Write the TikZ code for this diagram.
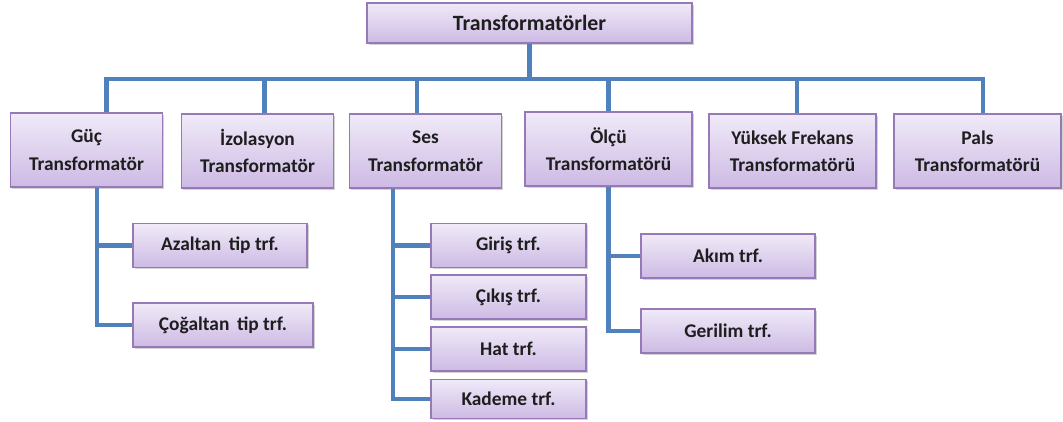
\documentclass[tikz,border=0pt]{standalone}
\usepackage{fontspec}
\setmainfont{Carlito}
\usetikzlibrary{shadows}

\definecolor{linkblue}{RGB}{79,129,189}
\definecolor{boxline}{RGB}{150,122,184}
\definecolor{boxtop}{RGB}{240,234,248}
\definecolor{boxbottom}{RGB}{205,186,228}
\definecolor{textdark}{RGB}{30,30,30}

\tikzset{
	box/.style={draw=boxline, line width=0.8pt, top color=boxtop, bottom color=boxbottom,
		align=center, inner sep=2pt, text=textdark, font=\bfseries\fontsize{13.8}{19.5}\selectfont,
		drop shadow={shadow xshift=1.2pt, shadow yshift=-1.2pt, opacity=0.35}},
	mainbox/.style={box, minimum width=3.8cm, minimum height=1.85cm},
	subbox/.style={box, minimum height=1.1cm},
	link/.style={draw=linkblue, line width=3.2pt}
}

\begin{document}
\begin{tikzpicture}[x=0.025cm, y=-0.025cm]
			\useasboundingbox (0,0) rectangle (1063,421);

			\node[box, minimum width=8.125cm, minimum height=1cm, font=\bfseries\fontsize{15.5}{18}\selectfont] (top) at (529.5,23) {Transformatörler};

			\begin{scope}[every node/.style={mainbox}]
				\node (guc) at (86.5,150) {Güç\\Transformatör};
				\node (izo) at (257.5,151) {İzolasyon\\Transformatör};
				\node (ses) at (425.5,151) {Ses\\Transformatör};
				\node[minimum width=4.175cm] (olcu) at (608.5,149) {Ölçü\\Transformatörü};
				\node[minimum width=4.175cm] (yuksek) at (792.5,151) {Yüksek Frekans\\Transformatörü};
				\node[minimum width=4.175cm] (pals) at (977.5,151) {Pals\\Transformatörü};
			\end{scope}

			\begin{scope}[every node/.style={subbox}]
				\node[minimum width=4.35cm] (azaltan) at (220,245.5) {Azaltan\, tip trf.};
				\node[minimum width=4.5cm] (cogaltan) at (223,325) {Çoğaltan\, tip trf.};

				\node[minimum width=3.875cm] (giris) at (508.5,245.5) {Giriş trf.};
				\node[minimum width=3.875cm] (cikis) at (508.5,297) {Çıkış trf.};
				\node[minimum width=3.875cm] (hat) at (508.5,349) {Hat trf.};
				\node[minimum width=3.875cm, minimum height=0.98cm] (kademe) at (508.5,399) {Kademe trf.};

				\node[minimum width=4.35cm] (akim) at (728,256) {Akım trf.};
				\node[minimum width=4.35cm] (gerilim) at (728,331) {Gerilim trf.};
			\end{scope}

			\coordinate (bus) at (top.south |- 0,79);

			\begin{scope}[link]
				\draw (top.south) -- (bus);
				\draw (bus) -| ([xshift=0.5cm]guc.north);
				\draw (bus) -| ([xshift=0.17cm]izo.north);
				\draw (bus) -| ([xshift=-0.21cm]ses.north);
				\draw (bus) -| (olcu.north);
				\draw (bus) -| ([xshift=0.11cm]yuksek.north);
				\draw (bus) -| ([xshift=0.14cm]pals.north);

				\draw ([xshift=0.26cm]guc.south) |- (azaltan.west);
				\draw ([xshift=0.26cm]guc.south) |- (cogaltan.west);

				\foreach \n in {giris, cikis, hat, kademe}
					\draw ([xshift=-0.81cm]ses.south) |- (\n.west);

				\draw (olcu.south) |- (akim.west);
				\draw (olcu.south) |- (gerilim.west);
			\end{scope}
		\end{tikzpicture}
\end{document}
